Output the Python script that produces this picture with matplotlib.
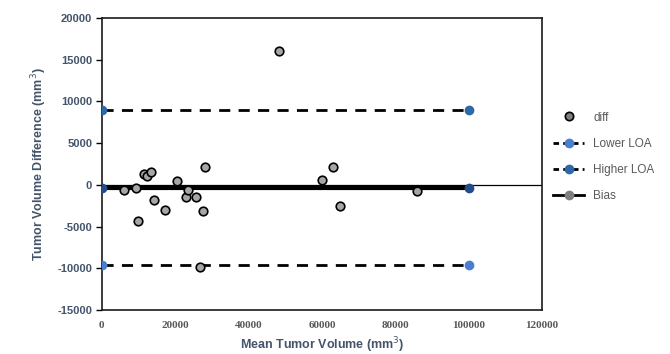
import matplotlib
matplotlib.use('Agg')
import matplotlib.pyplot as plt
from matplotlib.lines import Line2D

# Bland-Altman data
mean_vol = [6000, 9400, 9800, 11500, 12400, 13300, 14200, 17200, 20500, 22900,
            23400, 25800, 26700, 27700, 28000, 48200, 60000, 62900, 65000, 85900]
diff_vol = [-640, -360, -4300, 1280, 1100, 1560, -1840, -2960, 440, -1480,
            -560, -1400, -9830, -3100, 2100, 16100, 560, 2100, -2560, -760]

loa_x = [0, 100000]
lower_loa = [-9600, -9600]
higher_loa = [8950, 8950]
bias = [-320, -320]

xticks = [0, 20000, 40000, 60000, 80000, 100000, 120000]
yticks = [-15000, -10000, -5000, 0, 5000, 10000, 15000, 20000]

label_col = '#44546A'
text_col = '#595959'

fig = plt.figure(figsize=(6.7, 3.54), dpi=100)
ax = fig.add_axes([0.152, 0.124, 0.657, 0.825])

# axis line at y = 0
ax.axhline(0, color='black', lw=0.9, zorder=1)

ax.plot(loa_x, lower_loa, color='black', lw=2, ls=(0, (4, 3)), zorder=2)
ax.plot(loa_x, lower_loa, ls='none', marker='o', ms=6, color='#4A7FD0', zorder=4)
ax.plot(loa_x, higher_loa, color='black', lw=2, ls=(0, (4, 3)), zorder=2)
ax.plot(loa_x, higher_loa, ls='none', marker='o', ms=6, color='#2E68A8', zorder=4)
ax.plot(loa_x, bias, color='black', lw=3, zorder=2)
ax.plot(loa_x, bias, ls='none', marker='o', ms=6, color='#264B8A', zorder=4)

ax.scatter(mean_vol, diff_vol, s=38, facecolor='#A6A6A6', edgecolor='black',
           linewidths=1.2, zorder=3)

ax.set_xlim(0, 120000)
ax.set_ylim(-15000, 20000)
ax.set_xticks(xticks)
ax.set_yticks(yticks)
ax.set_xticklabels([str(v) for v in xticks], family='Liberation Serif',
                   fontweight='bold', fontsize=8, color=text_col)
ax.set_yticklabels([str(v) for v in yticks], family='Liberation Sans',
                   fontweight='bold', fontsize=8, color=label_col)
ax.tick_params(axis='x', length=0, pad=8)
ax.tick_params(axis='y', length=4, width=1, direction='out', pad=3)

for s in ax.spines.values():
    s.set_linewidth(1.2)
    s.set_color('#1a1a1a')

ax.set_xlabel('Mean Tumor Volume (mm$^3$)', fontsize=9, fontweight='bold',
              color=label_col, family='Liberation Sans', labelpad=4)
ax.set_ylabel('Tumor Volume Difference (mm$^3$)', fontsize=9, fontweight='bold',
              color=label_col, family='Liberation Sans', labelpad=6)

handles = [
    Line2D([], [], ls='none', marker='o', ms=6, mfc='#7F7F7F', mec='black', mew=1.2),
    Line2D([], [], color='black', lw=2, ls=(0, (2, 1.5)), marker='o', ms=6,
           mfc='#4A7FD0', mec='#4A7FD0'),
    Line2D([], [], color='black', lw=2, ls=(0, (2, 1.5)), marker='o', ms=6,
           mfc='#2E68A8', mec='#2E68A8'),
    Line2D([], [], color='black', lw=2, marker='o', ms=6, mfc='#7F7F7F', mec='#7F7F7F'),
]
leg = fig.legend(handles, ['diff', 'Lower LOA', 'Higher LOA', 'Bias'],
                 loc='upper left', bbox_to_anchor=(0.81, 0.715), frameon=False,
                 handlelength=2.6, labelspacing=1.2,
                 prop={'family': 'Liberation Sans', 'size': 8.5})
for t in leg.get_texts():
    t.set_color(text_col)

fig.savefig('out.png', dpi=100)
